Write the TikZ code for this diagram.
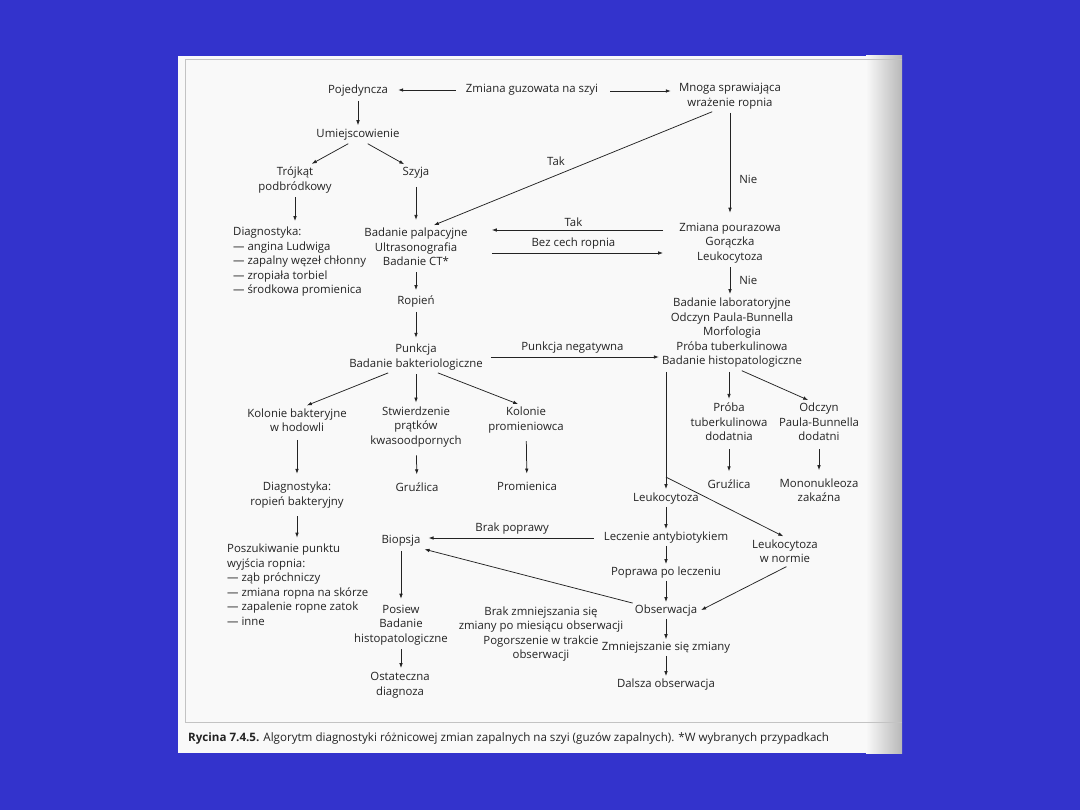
\documentclass[tikz,border=0pt]{standalone}
\usepackage{fontspec}
\setmainfont{Open Sans}
\usepackage{xcolor}
\usepackage{tikz}
\usetikzlibrary{arrows.meta,calc}
\definecolor{FondoAzul}{RGB}{51,51,204}
\definecolor{Hoja}{RGB}{249,249,249}
\definecolor{Tinta}{RGB}{35,35,35}
\definecolor{Marco}{RGB}{195,195,195}

\begin{document}
\begin{tikzpicture}[x=1pt,y=-1pt,>={Latex[length=5pt,width=3.6pt]},
  txt/.style={font=\fontsize{11.4}{14.5}\selectfont,text=Tinta,align=center,inner sep=2pt},
  lista/.style={txt,align=left,anchor=west},
  flecha/.style={->,draw=Tinta,line width=0.75pt,shorten <=2pt,shorten >=2pt},
  rotulo/.style={font=\fontsize{11.4}{14.5}\selectfont,text=Tinta,inner sep=3pt}]
  % fondo y hoja
  \fill[FondoAzul] (0,0) rectangle (1080,810);
  \useasboundingbox (0,0) rectangle (1080,810);
  \fill[Hoja] (178,56) rectangle (902,753);
  \shade[left color=Hoja,right color=black!28] (866,56) rectangle (902,753);
  \draw[Marco,line width=0.8pt] (902,59) -- (185,59) -- (185,722) -- (902,722);

  % nodos
  \node[txt] (zmiana) at (532,90) {Zmiana guzowata na szyi};
  \node[txt] (pojed) at (358,91) {Pojedyncza};
  \node[txt] (mnoga) at (730,96) {Mnoga sprawiająca\\wrażenie ropnia};
  \node[txt] (umiej) at (358,135) {Umiejscowienie};
  \node[txt] (trojkat) at (295,180) {Trójkąt\\podbródkowy};
  \node[txt] (szyja) at (416,173) {Szyja};
  \node[lista] (diag1) at (231,262) {Diagnostyka:\\— angina Ludwiga\\— zapalny węzeł chłonny\\— zropiała torbiel\\— środkowa promienica};
  \node[txt] (palp) at (416,247) {Badanie palpacyjne\\Ultrasonografia\\Badanie CT*};
  \node[txt] (pourazowa) at (730,243) {Zmiana pourazowa\\Gorączka\\Leukocytoza};
  \node[txt] (lab) at (732,333) {Badanie laboratoryjne\\Odczyn Paula-Bunnella\\Morfologia\\Próba tuberkulinowa\\Badanie histopatologiczne};
  \node[txt] (ropien) at (416,302) {Ropień};
  \node[txt] (punkcja) at (416,357) {Punkcja\\Badanie bakteriologiczne};
  \node[txt] (kolbak) at (297,420) {Kolonie bakteryjne\\w hodowli};
  \node[txt] (stwierdz) at (416,427) {Stwierdzenie\\prątków\\kwasoodpornych};
  \node[txt] (kolprom) at (526,420) {Kolonie\\promieniowca};
  \node[txt] (proba) at (729,422) {Próba\\tuberkulinowa\\dodatnia};
  \node[txt] (odczyn) at (819,422) {Odczyn\\Paula-Bunnella\\dodatni};
  \node[txt] (diag2) at (297,495) {Diagnostyka:\\ropień bakteryjny};
  \node[txt] (gruz1) at (417,487) {Gruźlica};
  \node[txt] (promienica) at (527,486) {Promienica};
  \node[txt] (gruz2) at (729,484) {Gruźlica};
  \node[txt] (mono) at (819,490) {Mononukleoza\\zakaźna};
  \node[txt] (leuko) at (666,499) {Leukocytoza};
  \node[txt] (biopsja) at (401,541) {Biopsja};
  \node[txt] (leczenie) at (666,538) {Leczenie antybiotykiem};
  \node[txt] (normie) at (785,551) {Leukocytoza\\w normie};
  \node[lista] (poszuk) at (225,584.5) {Poszukiwanie punktu\\wyjścia ropnia:\\— ząb próchniczy\\— zmiana ropna na skórze\\— zapalenie ropne zatok\\— inne};
  \node[txt] (poprawa) at (666,573) {Poprawa po leczeniu};
  \node[txt] (obserw) at (666,611) {Obserwacja};
  \node[txt] (posiew) at (401,625) {Posiew\\Badanie\\histopatologiczne};
  \node[txt] (brakzm) at (541,634) {Brak zmniejszania się\\zmiany po miesiącu obserwacji\\Pogorszenie w trakcie\\obserwacji};
  \node[txt] (zmniejsz) at (666,648) {Zmniejszanie się zmiany};
  \node[txt] (dalsza) at (666,685) {Dalsza obserwacja};
  \node[txt] (ostat) at (400,685) {Ostateczna\\diagnoza};

  % strzalki
  \draw[flecha,shorten <=8pt,shorten >=8pt] (zmiana.west) -- (zmiana.west -| pojed.east);
  \draw[flecha,shorten <=10pt,shorten >=6pt] ([yshift=-1pt]zmiana.east) -- ([yshift=-1pt]zmiana.east -| mnoga.west);
  \draw[flecha] (pojed) -- (umiej);
  \draw[flecha] ([xshift=-8pt]umiej.south) -- ([xshift=15pt]trojkat.north);
  \draw[flecha] ([xshift=8pt]umiej.south) -- ([xshift=-10pt]szyja.north);
  \draw[flecha,shorten >=4pt] (trojkat.south) -- (trojkat.south |- diag1.north);
  \draw[flecha,shorten <=6pt,shorten >=6pt] (szyja) -- (palp);
  \draw[flecha] ([xshift=-16pt]mnoga.south) -- ([xshift=16pt]palp.north)
    node[rotulo,pos=0.56,above,yshift=6pt] {Tak};
  \draw[flecha,shorten >=8pt] (mnoga.south) -- (pourazowa.north)
    node[rotulo,pos=0.62,right,xshift=6pt] {Nie};
  \draw[flecha,shorten <=14pt,shorten >=22pt] ([yshift=13pt]pourazowa.west) -- ([yshift=13pt]pourazowa.west -| palp.east)
    node[rotulo,midway,above] {Tak};
  \draw[flecha,shorten <=22pt,shorten >=14pt] ([yshift=-6pt]palp.east) -- ([yshift=-6pt]palp.east -| pourazowa.west)
    node[rotulo,midway,above] {Bez cech ropnia};
  \draw[flecha] (pourazowa.south) -- (pourazowa.south |- lab.north)
    node[rotulo,midway,right,xshift=6pt] {Nie};
  \draw[flecha,shorten <=4pt,shorten >=4pt] (palp) -- (ropien);
  \draw[flecha,shorten >=4pt] (ropien) -- (punkcja);
  \draw[flecha,shorten <=6pt,shorten >=1pt] (punkcja.east) -- (punkcja.east -| lab.west)
    node[rotulo,midway,above] {Punkcja negatywna};
  \draw[flecha] ([xshift=-26pt]punkcja.south) -- ([xshift=8pt]kolbak.north);
  \draw[flecha] (punkcja) -- (stwierdz);
  \draw[flecha] ([xshift=20pt]punkcja.south) -- ([xshift=-6pt]kolprom.north);
  \draw[flecha,shorten <=6pt,shorten >=6pt] (kolbak) -- (diag2);
  \draw[flecha,shorten <=6pt,shorten >=6pt] (stwierdz) -- (gruz1);
  \draw[flecha,shorten <=6pt,shorten >=6pt] (kolprom) -- (promienica);
  \draw[flecha] (proba.north |- lab.south) -- (proba.north);
  \draw[flecha] ([xshift=8pt]lab.south) -- ([xshift=-9pt]odczyn.north);
  \draw[flecha,shorten <=6pt,shorten >=6pt] (proba) -- (gruz2);
  \draw[flecha,shorten <=6pt,shorten >=6pt] (odczyn) -- (mono);
  \draw[flecha] (leuko.north |- lab.south) -- (leuko.north);
  \coordinate (rama) at ([yshift=14pt]leuko.north);
  \draw[flecha,shorten <=0pt] (rama) -- (normie.north);
  \draw[flecha,shorten <=0pt,shorten >=1pt] (leuko) -- (leczenie);
  \draw[flecha,shorten <=8pt,shorten >=6pt] (leczenie.west) -- (leczenie.west -| biopsja.east)
    node[rotulo,midway,above] {Brak poprawy};
  \draw[flecha,shorten <=0pt,shorten >=1pt] (leczenie) -- (poprawa);
  \draw[flecha,shorten <=0pt,shorten >=1pt] (poprawa) -- (obserw);
  \draw[flecha,shorten <=4pt] ([xshift=5pt]normie.south) -- (obserw.east);
  \draw[flecha,shorten <=0pt] (obserw.north west) -- (biopsja.south east);
  \draw[flecha,shorten <=0pt,shorten >=1pt] (obserw) -- (zmniejsz);
  \draw[flecha,shorten <=0pt,shorten >=1pt] (zmniejsz) -- (dalsza);
  \draw[flecha,shorten >=4pt] (biopsja) -- (posiew);
  \draw[flecha] (posiew) -- (ostat.north -| posiew);
  \draw[flecha,shorten <=6pt,shorten >=4pt] (diag2.south) -- (diag2.south |- poszuk.north);

  % podpis
  \node[font=\fontsize{11.6}{13}\selectfont,text=Tinta,anchor=west,inner sep=0pt] (podpis) at (188,738)
    {\textbf{Rycina 7.4.5.} Algorytm diagnostyki różnicowej zmian zapalnych na szyi (guzów zapalnych). *W wybranych przypadkach};
\end{tikzpicture}
\end{document}
